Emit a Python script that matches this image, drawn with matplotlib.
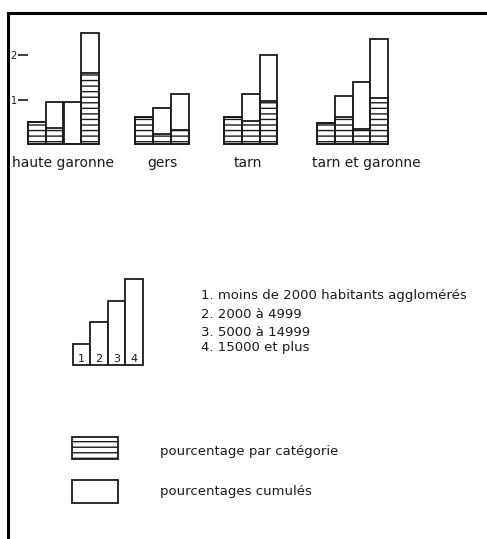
import matplotlib.pyplot as plt
from matplotlib.patches import Rectangle
from matplotlib.lines import Line2D

plt.rcParams['font.family'] = ['DejaVu Sans']
plt.rcParams['hatch.linewidth'] = 1.0

W, H = 487, 539  # pixels

# Data (in units of the left scale, ticks 1 and 2)
departements = ['haute garonne', 'gers', 'tarn', 'tarn et garonne']
par_categorie = [
    [0.50, 0.36, 0.00, 1.59],  # haute garonne
    [0.60, 0.22, 0.31],        # gers
    [0.60, 0.52, 0.97],        # tarn
    [0.47, 0.61, 0.33, 1.03],  # tarn et garonne
]
cumules = [
    [0.50, 0.94, 0.94, 2.49],
    [0.60, 0.80, 1.12],
    [0.60, 1.12, 2.00],
    [0.47, 1.08, 1.39, 2.36],
]
y_ticks = [1, 2]

legende_hauteurs = [1, 2, 3, 4]
legende_numeros = ['1', '2', '3', '4']
categories = ['1. moins de 2000 habitants agglomérés', '2. 2000 à 4999',
              '3. 5000 à 14999', '4. 15000 et plus']
motifs = ['pourcentage par catégorie', 'pourcentages cumulés']

INK = '#1a1a1a'


def fx(x):
    return x / W


def fy(y):
    return 1 - y / H


fig = plt.figure(figsize=(W / 100, H / 100), dpi=100)
fig.patch.set_facecolor('white')

# --- main chart
bar_w = 17.9
unit_h = 44.5
left, base, top = 27.7, 144, 13
ax = fig.add_axes([fx(left), fy(base), (W - left) / W, (base - top) / H])
ax.set_xlim(0, (W - left) / bar_w)
ax.set_ylim(0, (base - top) / unit_h)
group_start = [0, 6, 10.95, 16.15]

for g, start in enumerate(group_start):
    for j in range(len(cumules[g])):
        ax.bar(start + j, cumules[g][j], width=1, align='edge', facecolor='white',
               edgecolor=INK, linewidth=1.3, clip_on=False)
        ax.bar(start + j, par_categorie[g][j], width=1, align='edge', fill=False,
               hatch='---', edgecolor=INK, linewidth=1.3, clip_on=False)

for s in ax.spines.values():
    s.set_visible(False)
ax.set_xticks([])
ax.set_yticks(y_ticks)
ax.set_yticklabels([str(t) for t in y_ticks])
ax.tick_params(axis='y', length=7, width=1.2, pad=1, labelsize=7, colors=INK)
ax.patch.set_visible(False)

label_x = [63, 162, 248, 366]
for name, x in zip(departements, label_x):
    fig.text(fx(x), fy(163), name, ha='center', va='center', fontsize=10, color=INK)

# --- legend: staircase
step_w, step_h = 17.5, 21.5
lx, lbase = 72.7, 365.3
ax2 = fig.add_axes([fx(lx), fy(lbase), 4 * step_w / W, 4 * step_h / H])
ax2.set_xlim(0, 4)
ax2.set_ylim(0, 4)
ax2.bar(range(4), legende_hauteurs, width=1, align='edge', facecolor='white',
        edgecolor=INK, linewidth=1.3, clip_on=False)
for i, n in enumerate(legende_numeros):
    ax2.text(i + 0.5, 0.3, n, ha='center', va='center', fontsize=8, color=INK)
ax2.axis('off')

for i, (txt, y) in enumerate(zip(categories, [296, 315, 332, 348])):
    fig.text(fx(201), fy(y), txt, ha='left', va='center', fontsize=9.5, color=INK)

# --- legend: patterns
fig.add_artist(Rectangle((fx(71.7), fy(459.3)), 46.6 / W, 22.6 / H, transform=fig.transFigure,
                         facecolor='white', edgecolor=INK, hatch='---', linewidth=1.3))
fig.add_artist(Rectangle((fx(71.7), fy(503.3)), 46.6 / W, 23.3 / H, transform=fig.transFigure,
                         facecolor='white', edgecolor=INK, linewidth=1.3))
fig.text(fx(160), fy(451), motifs[0], ha='left', va='center', fontsize=9.5, color=INK)
fig.text(fx(160), fy(491), motifs[1], ha='left', va='center', fontsize=9.5, color=INK)

# --- frame (top and left)
fig.add_artist(Line2D([fx(8), 1], [fy(13), fy(13)], transform=fig.transFigure,
                      color='black', linewidth=2.2))
fig.add_artist(Line2D([fx(8), fx(8)], [fy(13), 0], transform=fig.transFigure,
                      color='black', linewidth=2.2))

fig.savefig('out.png', dpi=100)
